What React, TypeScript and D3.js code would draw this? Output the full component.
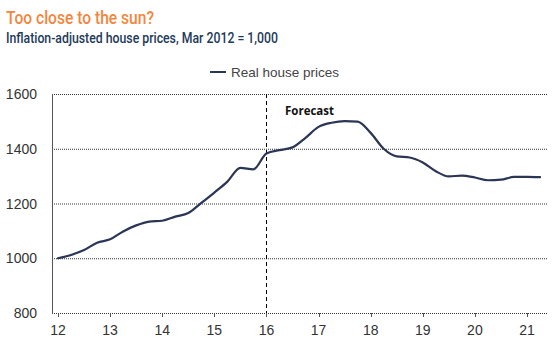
import React from "react";
import * as d3 from "d3";

// Quarterly real house price index (Mar 2012 = 1,000), forecast from 2016
const quarters: number[] = [
  12.0, 12.25, 12.5, 12.75, 13.0, 13.25, 13.5, 13.75, 14.0, 14.25, 14.5, 14.75,
  15.0, 15.25, 15.5, 15.75, 16.0, 16.25, 16.5, 16.75, 17.0, 17.25, 17.5, 17.75,
  18.0, 18.25, 18.5, 18.75, 19.0, 19.25, 19.5, 19.75, 20.0, 20.25, 20.5, 20.75,
  21.0, 21.25,
];
const realHousePrices: number[] = [
  1000, 1012, 1030, 1057, 1069, 1098, 1120, 1134, 1137, 1152, 1165, 1202,
  1240, 1280, 1330, 1325, 1383, 1395, 1405, 1440, 1480, 1495, 1501, 1499,
  1458, 1400, 1372, 1368, 1350, 1318, 1299, 1302, 1295, 1285, 1287, 1297,
  1297, 1296,
];
const xTicks: number[] = [12, 13, 14, 15, 16, 17, 18, 19, 20, 21];
const yTicks: number[] = [800, 1000, 1200, 1400, 1600];
const forecastStart = 16;

const title = "Too close to the sun?";
const subtitle = "Inflation-adjusted house prices, Mar 2012 = 1,000";
const seriesName = "Real house prices";

export default function App() {
  const width = 558;
  const height = 348;
  const x = d3.scaleLinear().domain([12, 21]).range([58, 527]);
  const y = d3.scaleLinear().domain([800, 1600]).range([313, 94]);
  const plotLeft = 52;
  const plotRight = 547;

  const points: [number, number][] = quarters.map((q, i) => [q, realHousePrices[i]]);
  const line = d3
    .line<[number, number]>()
    .x((d) => x(d[0]))
    .y((d) => y(d[1]))
    .curve(d3.curveMonotoneX);

  const axisFont = "'Liberation Sans', Arial, sans-serif";

  return (
    <svg
      width={width}
      height={height}
      style={{ position: "absolute", left: 0, top: 0, background: "#fff" }}
    >
      <text
        x={6}
        y={24}
        fontFamily="Roboto, sans-serif"
        fontWeight={500}
        fontSize={18}
        fill="#F3863D"
        textLength={148}
        lengthAdjust="spacingAndGlyphs"
      >
        {title}
      </text>
      <text
        x={6}
        y={42.5}
        fontFamily="Roboto, sans-serif"
        fontWeight={500}
        fontSize={15}
        fill="#1D3A5A"
        textLength={272}
        lengthAdjust="spacingAndGlyphs"
      >
        {subtitle}
      </text>

      {/* legend */}
      <line x1={210} x2={226} y1={72} y2={72} stroke="#2B3556" strokeWidth={2} />
      <text x={231} y={76.5} fontFamily={axisFont} fontSize={13.5} fill="#444">
        {seriesName}
      </text>

      {/* gridlines */}
      {yTicks.map((t) => (
        <line
          key={t}
          x1={plotLeft}
          x2={plotRight}
          y1={y(t) + 0.5}
          y2={y(t) + 0.5}
          stroke="#333"
          strokeWidth={1}
          strokeDasharray="1,1"
        />
      ))}
      {yTicks.map((t) => (
        <text
          key={"yl" + t}
          x={37}
          y={y(t) + 5}
          textAnchor="end"
          fontFamily={axisFont}
          fontSize={14}
          fill="#333"
        >
          {t}
        </text>
      ))}

      {/* left axis */}
      <line x1={plotLeft + 0.5} x2={plotLeft + 0.5} y1={94} y2={314} stroke="#555" strokeWidth={1} />

      {/* x ticks */}
      {xTicks.map((t) => (
        <g key={"xt" + t}>
          <line
            x1={Math.round(x(t)) + 0.5}
            x2={Math.round(x(t)) + 0.5}
            y1={313}
            y2={317}
            stroke="#555"
            strokeWidth={1}
          />
          <text
            x={x(t)}
            y={335}
            textAnchor="middle"
            fontFamily={axisFont}
            fontSize={14}
            fill="#333"
          >
            {t}
          </text>
        </g>
      ))}

      {/* forecast divider */}
      <line
        x1={Math.round(x(forecastStart)) + 0.5}
        x2={Math.round(x(forecastStart)) + 0.5}
        y1={94}
        y2={313}
        stroke="#000"
        strokeWidth={1}
        strokeDasharray="4,3"
      />
      <text
        x={285}
        y={115}
        fontFamily="'Open Sans', sans-serif"
        fontWeight="bold"
        fontSize={11.5}
        fill="#111"
      >
        Forecast
      </text>

      <path
        d={line(points) || ""}
        fill="none"
        stroke="#2B3556"
        strokeWidth={2.2}
        strokeLinejoin="round"
        strokeLinecap="round"
      />
    </svg>
  );
}
